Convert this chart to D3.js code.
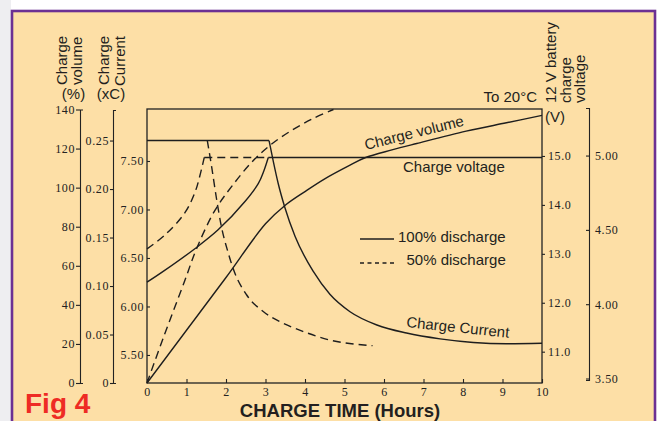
<!DOCTYPE html>
<html>
<head>
<meta charset="utf-8">
<script src="https://cdn.jsdelivr.net/npm/d3@7"></script>
<style>
  html, body { margin: 0; padding: 0; background: #fff; }
  svg { display: block; }
  .tick text { font-family: "Liberation Serif", "DejaVu Serif", serif; font-size: 12px; fill: #222; letter-spacing: 0.6px; }
  .tick line, .domain { stroke: #222; stroke-width: 1.1; }
  .lbl { font-family: "Liberation Sans", Arial, sans-serif; font-size: 15px; fill: #231f20; }
</style>
</head>
<body>
<div id="chart"></div>
<script>
// hours, values
const volume100 = [[0, 0], [1, 27], [2, 54], [3, 81.5], [3.5, 91], [4, 98], [4.5, 104.5], [5.14, 111.5],
  [5.52, 115.3], [6.2, 119.3], [6.83, 122.6], [8.08, 128.9], [9.1, 133.2], [10, 137]];
const volume50 = [[0, 0], [0.41, 23], [0.96, 52.6], [1.26, 69], [1.72, 88.4], [2.14, 100.5], [2.65, 113],
  [3.11, 121.6], [3.66, 129.3], [4.2, 135.3], [4.72, 140]];

const currentFlat100 = [[0, 0.25], [3.09, 0.25]];
const current100 = [[3.09, 0.25], [3.2, 0.228], [3.32, 0.206], [3.49, 0.181], [3.75, 0.151], [4.21, 0.115],
  [4.63, 0.0915], [5.14, 0.0735], [5.82, 0.0598], [6.57, 0.0515], [7.42, 0.0455], [8.26, 0.0418],
  [9.1, 0.0405], [10, 0.041]];
const current50 = [[1.527, 0.25], [1.64, 0.222], [1.76, 0.19], [1.89, 0.16], [2.05, 0.135], [2.19, 0.117],
  [2.52, 0.091], [2.95, 0.0735], [3.37, 0.0632], [3.96, 0.053], [4.63, 0.0443], [5.71, 0.0385]];

const voltage100 = [[0, 12.42], [0.41, 12.64], [1.22, 13.11], [1.8, 13.49], [2.48, 14.07], [2.82, 14.44],
  [2.96, 14.7], [3.07, 14.97]];
const voltageFlat = [[3.07, 14.97], [10, 14.97]];
const voltage50 = [[0, 13.1], [0.46, 13.39], [0.96, 13.84], [1.22, 14.27], [1.34, 14.6], [1.45, 14.97]];
const voltageFlat50 = [[1.45, 14.97], [3.07, 14.97]];

const hourTicks = d3.range(0, 11);
const volumeTicks = [0, 20, 40, 60, 80, 100, 120, 140];
const currentTicks = [0, 0.05, 0.10, 0.15, 0.20, 0.25];
const cellTicks = [5.50, 6.00, 6.50, 7.00, 7.50];
const batteryTicks = [11, 12, 13, 14, 15];
const perCellTicks = [3.50, 4.00, 4.50, 5.00];

const W = 662, H = 421;
const svg = d3.select('#chart').append('svg').attr('width', W).attr('height', H);

// frame
svg.append('rect').attr('x', 0).attr('y', 0).attr('width', 11).attr('height', H).attr('fill', '#eeeef1');
svg.append('rect').attr('x', 12).attr('y', 11).attr('width', 643).attr('height', H)
  .attr('fill', '#fddfa6').attr('stroke', '#6c3093').attr('stroke-width', 2.6);

const x = d3.scaleLinear([0, 10], [147, 542]);
const yVol = d3.scaleLinear([0, 140], [383, 109.5]);
const yCur = d3.scaleLinear([0, 0.2815], [383, 110]);
const y6 = d3.scaleLinear([5.211, 8.036], [383, 109]);
const y12 = d3.scaleLinear([10.36, 15.96], [383, 109]);
const yCell = d3.scaleLinear([3.49, 5.32], [380, 108]);

// plot box
svg.append('rect').attr('x', x(0)).attr('y', y12.range()[1]).attr('width', x(10) - x(0))
  .attr('height', 383 - 109).attr('fill', 'none').attr('stroke', '#222').attr('stroke-width', 1.3);

const fmt2 = d => d === 0 ? '0' : d3.format('.2f')(d);

svg.append('g').attr('transform', 'translate(0,383)')
  .call(d3.axisBottom(x).tickValues(hourTicks).tickSizeInner(-4).tickSizeOuter(0).tickPadding(4))
  .call(g => g.select('.domain').remove());

svg.append('g').attr('transform', 'translate(80,0)')
  .call(d3.axisLeft(yVol).tickValues(volumeTicks).tickSizeInner(4).tickSizeOuter(-3).tickPadding(1));

svg.append('g').attr('transform', 'translate(113,0)')
  .call(d3.axisLeft(yCur).tickValues(currentTicks).tickFormat(fmt2).tickSizeInner(3).tickSizeOuter(-3).tickPadding(1));

svg.append('g').attr('transform', 'translate(147,0)')
  .call(d3.axisLeft(y6).tickValues(cellTicks).tickFormat(d3.format('.2f')).tickSizeInner(-3).tickPadding(3))
  .call(g => g.select('.domain').remove());

svg.append('g').attr('transform', 'translate(542,0)')
  .call(d3.axisRight(y12).tickValues(batteryTicks).tickFormat(d3.format('.1f')).tickSizeInner(3).tickPadding(3))
  .call(g => g.select('.domain').remove());

svg.append('g').attr('transform', 'translate(589,0)')
  .call(d3.axisRight(yCell).tickValues(perCellTicks).tickFormat(d3.format('.2f')).tickSizeInner(-3).tickSizeOuter(-3).tickPadding(6));

// curves
const smooth = d3.curveCatmullRom.alpha(0.5);
const plot = (data, yScale, dashed, curve) => {
  const line = d3.line().x(d => x(d[0])).y(d => yScale(d[1])).curve(curve || d3.curveMonotoneX);
  svg.append('path').datum(data).attr('d', line).attr('fill', 'none')
    .attr('stroke', '#1e1e1e').attr('stroke-width', 1.4)
    .attr('stroke-dasharray', dashed ? '8,5' : null);
};

plot(volume100, yVol, false, smooth);
plot(volume50, yVol, true, smooth);
plot(currentFlat100, yCur, false, d3.curveLinear);
plot(current100, yCur, false);
plot(current50, yCur, true);
plot(voltage100, y12, false, smooth);
plot(voltageFlat, y12, false, d3.curveLinear);
plot(voltage50, y12, true, smooth);
plot(voltageFlat50, y12, true, d3.curveLinear);

// legend
svg.append('line').attr('x1', 360).attr('x2', 394).attr('y1', 239).attr('y2', 239)
  .attr('stroke', '#1e1e1e').attr('stroke-width', 1.4);
svg.append('line').attr('x1', 360).attr('x2', 395).attr('y1', 263).attr('y2', 263)
  .attr('stroke', '#1e1e1e').attr('stroke-width', 1.4).attr('stroke-dasharray', '4,3.5');

const label = (tx, ty, s, opts = {}) => {
  const t = svg.append('text').attr('class', 'lbl')
    .attr('transform', `translate(${tx},${ty}) rotate(${opts.rotate || 0})`)
    .attr('text-anchor', opts.anchor || 'start').text(s);
  if (opts.style) t.attr('style', opts.style);
  return t;
};

label(398, 242, '100% discharge');
label(406.5, 265, '50% discharge');
label(366, 150, 'Charge volume', { rotate: -14 });
label(403, 172, 'Charge voltage');
label(406, 327, 'Charge Current', { rotate: 6 });
label(537, 102, 'To 20°C', { anchor: 'end' });
label(545, 122, '(V)');

// rotated axis titles
label(66.5, 85, 'Charge', { rotate: -90 });
label(81.5, 85, 'volume', { rotate: -90 });
label(73.5, 99, '(%)', { anchor: 'middle' });
label(109, 85, 'Charge', { rotate: -90 });
label(125, 86, 'Current', { rotate: -90 });
label(111, 99, '(xC)', { anchor: 'middle' });
label(556, 103, '12 V battery', { rotate: -90 });
label(570.5, 103, 'charge', { rotate: -90 });
label(585, 103, 'voltage', { rotate: -90 });

label(340, 416.5, 'CHARGE TIME (Hours)', { anchor: 'middle', style: 'font-size:18.5px;font-weight:bold' });
label(25, 413, 'Fig 4', { style: 'font-size:28px;font-weight:bold;fill:#ee2b24' });
</script>
</body>
</html>
